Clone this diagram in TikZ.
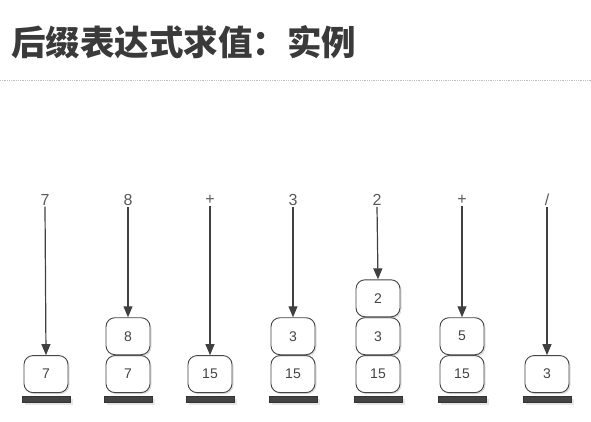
\documentclass[tikz,border=0pt]{standalone}
\usepackage{fontspec}
\setmainfont{Liberation Sans}
\newfontfamily\cjk{Noto Sans CJK SC}
\usetikzlibrary{positioning,arrows.meta,shadows}
\definecolor{inkgray}{HTML}{444444}
\definecolor{titlegray}{HTML}{3A3A3A}
\tikzset{
  token/.style={text=black!65, font=\fontsize{16}{16}\selectfont, inner sep=1pt},
  cell/.style={draw=inkgray, line width=0.9pt, fill=white, rounded corners=9pt,
    minimum width=44pt, minimum height=37pt, inner sep=0pt,
    font=\fontsize{14}{14}\selectfont, text=inkgray,
    drop shadow={shadow xshift=1.5pt, shadow yshift=-1.5pt, opacity=0.25}},
  plate/.style={fill=inkgray, draw=black!80, minimum width=48pt, minimum height=5.5pt,
    inner sep=0pt, drop shadow={shadow yshift=-3pt, opacity=0.2}},
  push/.style={-{Triangle[width=9pt,length=11pt]}, line width=1.2pt, draw=black!75},
}
\begin{document}
\begin{tikzpicture}[x=1pt,y=-1pt]
  \useasboundingbox (0,0) rectangle (591,422);
  \node[anchor=west, inner sep=0pt, text=titlegray,
        font=\cjk\bfseries\fontsize{34.5}{34.5}\selectfont] (title) at (11,42) {后缀表达式求值：实例};
  \coordinate (rulel) at (0,80);
  \coordinate (ruler) at (591,80);
  \draw[densely dotted, black!25, line width=0.8pt] (rulel) -- (ruler);

  % input tokens
  \node[token] (t1) at (45,200) {7};
  \node[token] (t2) at (128,200) {8};
  \node[token] (t3) at (210,200) {+};
  \node[token] (t4) at (293,200) {3};
  \node[token] (t5) at (377,200) {2};
  \node[token] (t6) at (462,200) {+};
  \node[token] (t7) at (547,200) {/};

  % stack bottoms
  \node[plate] (p1) at (46,399) {};
  \node[plate] (p2) at (128,399) {};
  \node[plate] (p3) at (210,399) {};
  \node[plate] (p4) at (293,399) {};
  \node[plate] (p5) at (378,399) {};
  \node[plate] (p6) at (462,399) {};
  \node[plate] (p7) at (547,399) {};

  % stack contents
  \node[cell, above=3pt of p1] (c11) {7};
  \node[cell, above=3pt of p2] (c21) {7};
  \node[cell, above=0pt of c21] (c22) {8};
  \node[cell, above=3pt of p3] (c31) {15};
  \node[cell, above=3pt of p4] (c41) {15};
  \node[cell, above=0pt of c41] (c42) {3};
  \node[cell, above=3pt of p5] (c51) {15};
  \node[cell, above=0pt of c51] (c52) {3};
  \node[cell, above=0pt of c52] (c53) {2};
  \node[cell, above=3pt of p6] (c61) {15};
  \node[cell, above=0pt of c61] (c62) {5};
  \node[cell, above=3pt of p7] (c71) {3};

  % pushes
  \draw[push] (t1.south) -- (c11.north);
  \draw[push] (t2.south) -- (c22.north);
  \draw[push] (t3.south) -- (c31.north);
  \draw[push] (t4.south) -- (c42.north);
  \draw[push] (t5.south) -- (c53.north);
  \draw[push] (t6.south) -- (c62.north);
  \draw[push] (t7.south) -- (c71.north);
\end{tikzpicture}
\end{document}
